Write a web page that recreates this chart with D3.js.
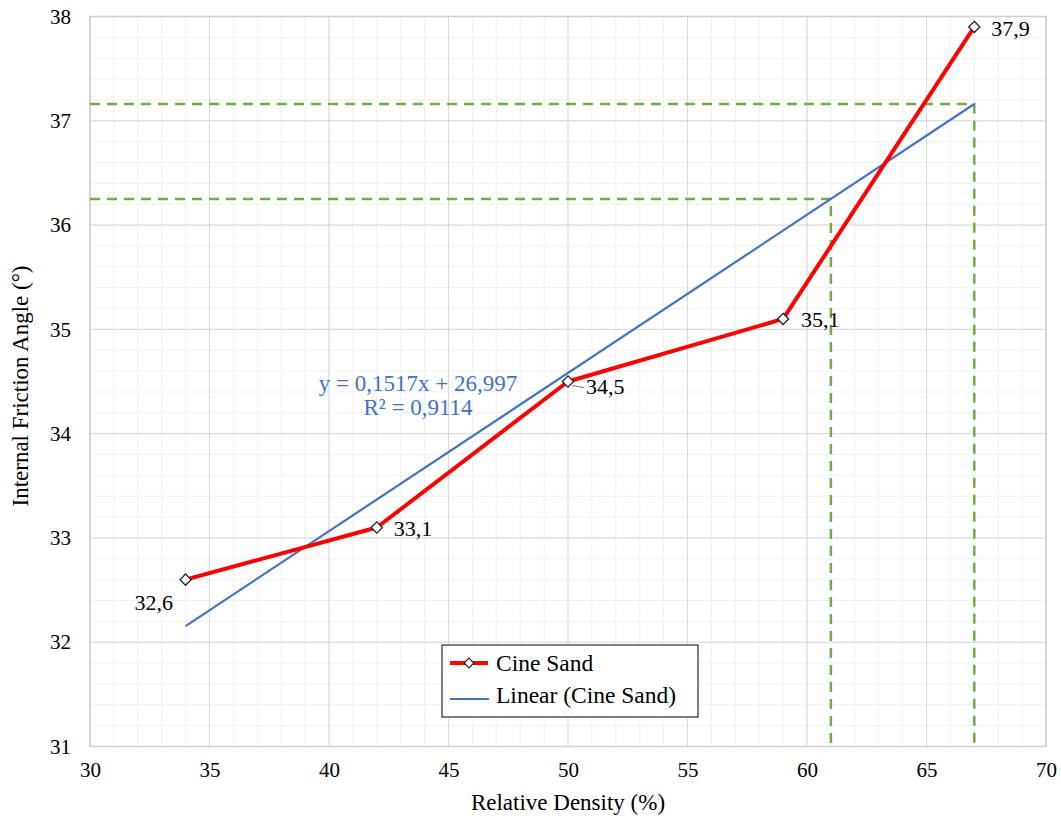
<!DOCTYPE html>
<html><head><meta charset="utf-8">
<script src="https://cdn.jsdelivr.net/npm/d3@7"></script>
<style>body{margin:0;background:#fff}svg{display:block}svg text{font-family:"Liberation Serif","Times New Roman",serif !important}</style>
</head><body><svg id="c" width="1061" height="820"></svg>
<script>
const density = [34, 42, 50, 59, 67];
const friction = [32.6, 33.1, 34.5, 35.1, 37.9];
const labels = ["32,6", "33,1", "34,5", "35,1", "37,9"];
const xTicks = [30, 35, 40, 45, 50, 55, 60, 65, 70];
const yTicks = [31, 32, 33, 34, 35, 36, 37, 38];
const slope = 0.1517, intercept = 26.997;
const trendRange = [34, 67];
const guideX = [61, 67];

const svg = d3.select("#c");
const L = 90, R = 1046, T = 16.5, B = 746.5;
const x = d3.scaleLinear().domain([30, 70]).range([L, R]);
const y = d3.scaleLinear().domain([31, 38]).range([B, T]);

// minor grid
const g = svg.append("g");
d3.range(30, 70.01, 1).forEach(v => g.append("line").attr("x1", x(v)).attr("x2", x(v)).attr("y1", T).attr("y2", B).attr("stroke", "#f0f0f0").attr("stroke-width", 1));
d3.range(31, 38.01, 0.2).forEach(v => g.append("line").attr("x1", L).attr("x2", R).attr("y1", y(v)).attr("y2", y(v)).attr("stroke", "#f0f0f0").attr("stroke-width", 1));
// major grid
xTicks.forEach(v => g.append("line").attr("x1", x(v)).attr("x2", x(v)).attr("y1", T).attr("y2", B).attr("stroke", "#d9d9d9"));
yTicks.forEach(v => g.append("line").attr("x1", L).attr("x2", R).attr("y1", y(v)).attr("y2", y(v)).attr("stroke", "#d9d9d9"));
g.append("rect").attr("x", L).attr("y", T).attr("width", R - L).attr("height", B - T).attr("fill", "none").attr("stroke", "#d0d0d0").attr("stroke-width", 1.5);

// axes tick labels
const xa = svg.append("g").attr("transform", `translate(0,${B})`).call(d3.axisBottom(x).tickValues(xTicks).tickFormat(d3.format("d")).tickSize(0).tickPadding(16));
xa.select(".domain").remove();
xa.selectAll("text").style("font-size", "21px").attr("fill", "#000");
const ya = svg.append("g").attr("transform", `translate(${L},0)`).call(d3.axisLeft(y).tickValues(yTicks).tickFormat(d3.format("d")).tickSize(0).tickPadding(19));
ya.select(".domain").remove();
ya.selectAll("text").style("font-size", "21px").attr("fill", "#000");

svg.append("text").attr("x", 568).attr("y", 810).attr("text-anchor", "middle").style("font-size", "23px").text("Relative Density (%)");
svg.append("text").attr("transform", `translate(28,386) rotate(-90)`).attr("text-anchor", "middle").style("font-size", "23px").text("Internal Friction Angle (°)");

// green guides
guideX.forEach(gx => {
  const gy = slope * gx + intercept;
  svg.append("path").attr("d", `M${x(30)},${y(gy)}H${x(gx)}V${B}`).attr("fill", "none").attr("stroke", "#70ad47").attr("stroke-width", 2.5).attr("stroke-dasharray", "10,7");
});

// trendline
svg.append("line").attr("x1", x(trendRange[0])).attr("y1", y(slope * trendRange[0] + intercept))
  .attr("x2", x(trendRange[1])).attr("y2", y(slope * trendRange[1] + intercept))
  .attr("stroke", "#4472c4").attr("stroke-width", 2.2);

// series line
const pts = density.map((d, i) => [d, friction[i]]);
svg.append("path").datum(pts).attr("d", d3.line().x(d => x(d[0])).y(d => y(d[1])))
  .attr("fill", "none").attr("stroke", "#ff0000").attr("stroke-width", 4).attr("stroke-linejoin", "round");
// markers
svg.selectAll(".m").data(pts).enter().append("path")
  .attr("d", d3.symbol(d3.symbolDiamond2, 80))
  .attr("transform", d => `translate(${x(d[0])},${y(d[1])})`)
  .attr("fill", "#fff").attr("stroke", "#222").attr("stroke-width", 1.3);

// data labels
const offs = [[-51, 30], [17, 8], [18, 12], [18, 8], [17, 9]];
pts.forEach((d, i) => {
  svg.append("text").attr("x", x(d[0]) + offs[i][0]).attr("y", y(d[1]) + offs[i][1]).style("font-size", "22px").text(labels[i]);
});
// leader line for 34,5
svg.append("line").attr("x1", x(50) + 4).attr("y1", y(34.5) + 4).attr("x2", x(50) + 16).attr("y2", y(34.5) + 6).attr("stroke", "#777").attr("stroke-width", 1);

// equation
svg.append("text").attr("x", 418).attr("y", 391).attr("text-anchor", "middle").style("font-size", "23px").attr("fill", "#4472c4").text("y = 0,1517x + 26,997");
svg.append("text").attr("x", 418).attr("y", 415).attr("text-anchor", "middle").style("font-size", "23px").attr("fill", "#4472c4").text("R² = 0,9114");

// legend
const lg = svg.append("g").attr("transform", "translate(442,645)");
lg.append("rect").attr("width", 256).attr("height", 72).attr("fill", "#fff").attr("stroke", "#000").attr("stroke-width", 1);
lg.append("line").attr("x1", 8).attr("x2", 46).attr("y1", 18).attr("y2", 18).attr("stroke", "#ff0000").attr("stroke-width", 4);
lg.append("path").attr("d", d3.symbol(d3.symbolDiamond2, 60)).attr("transform", "translate(27,18)").attr("fill", "#fff").attr("stroke", "#222").attr("stroke-width", 1.2);
lg.append("text").attr("x", 54).attr("y", 26).style("font-size", "23.5px").text("Cine Sand");
lg.append("line").attr("x1", 8).attr("x2", 47).attr("y1", 54).attr("y2", 54).attr("stroke", "#4472c4").attr("stroke-width", 2.2);
lg.append("text").attr("x", 54).attr("y", 58).style("font-size", "23.5px").text("Linear (Cine Sand)");
</script></body></html>
